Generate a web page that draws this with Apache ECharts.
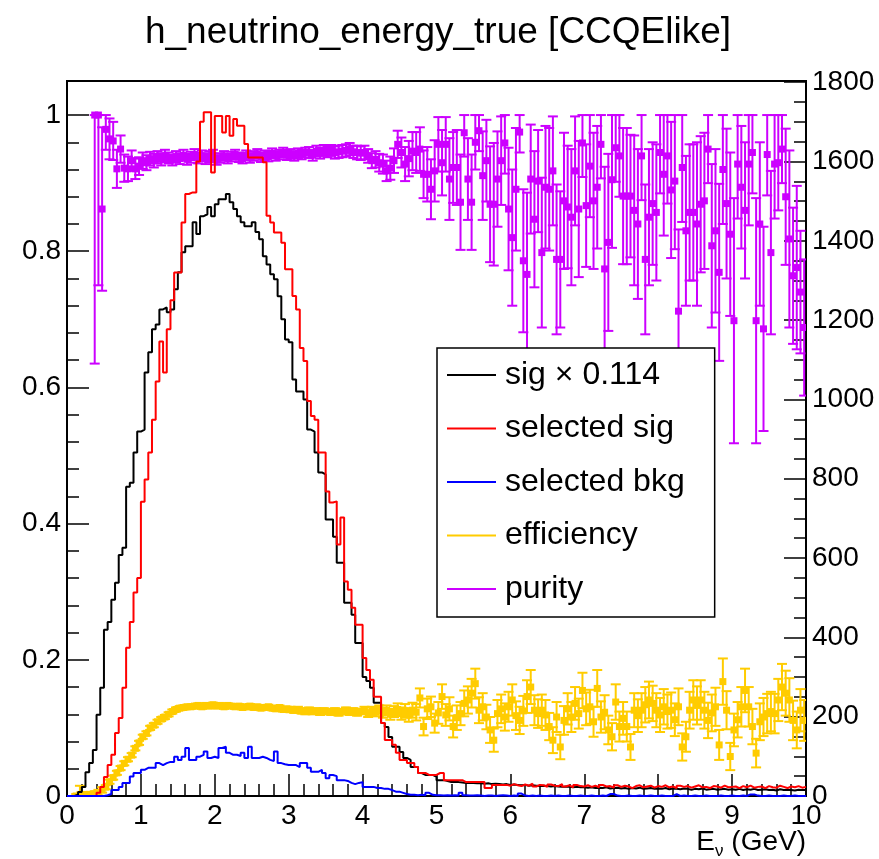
<!DOCTYPE html>
<html><head><meta charset="utf-8">
<script src="https://cdn.jsdelivr.net/npm/echarts@6/dist/echarts.min.js"></script>
<style>html,body{margin:0;padding:0;background:#fff}#c{width:879px;height:859px}</style>
</head><body><div id="c"></div>
<script>
const TITLE = 'h_neutrino_energy_true [CCQElike]';
const X_MIN = 0, X_MAX = 10, BIN_W = 0.05;
const LEFT_MAX = 1.05, RIGHT_MAX = 1803;
const leftTicks = [0, 0.2, 0.4, 0.6, 0.8, 1];
const rightTicks = [0, 200, 400, 600, 800, 1000, 1200, 1400, 1600, 1800];
const seriesNames = ['sig \u00d7 0.114', 'selected sig', 'selected bkg', 'efficiency', 'purity'];

// sig x 0.114 (right axis counts), 200 bins of 0.05 GeV
const sigScaled = [
0,0,3,10,23,60,83,116,205,273,419,439,495,538,608,626,780,790,866,919,
924,1068,1119,1177,1189,1227,1232,1220,1227,1278,1321,1371,1386,1386,1447,1417,1462,1467,1485,1462,
1492,1505,1505,1518,1497,1480,1462,1447,1437,1437,1447,1422,1404,1361,1340,1316,1303,1260,1202,1151,
1144,1050,1020,1020,1000,924,919,866,816,811,697,697,654,588,588,487,487,457,386,386,
300,290,273,235,235,184,174,149,124,124,111,96,91,73,73,58,53,53,53,48,
40,40,38,35,35,35,34,33,33,33,32,33,31,32,30,31,30,29,30,28,
29,28,27,28,26,27,26,25,26,25,24,25,24,23,24,23,22,23,22,22,
21,22,20,21,20,22,19,20,21,19,20,18,20,19,21,18,19,20,18,19,
18,20,17,19,18,17,19,18,16,18,17,19,16,17,18,16,17,18,16,17,
16,18,15,17,16,18,15,16,17,15,16,14,17,15,16,15,14,16,15,15];

const selSig = [
0,0,0,0,0,0,0,0,8,23,48,78,104,159,197,273,374,439,513,550,
742,798,866,949,1045,1146,1068,1177,1250,1320,1320,1446,1518,1522,1522,1600,1700,1724,1724,1572,
1715,1715,1673,1715,1665,1707,1690,1690,1644,1610,1610,1610,1610,1598,1463,1446,1421,1421,1395,1328,
1328,1261,1227,1130,1097,996,958,949,866,866,768,740,743,634,702,541,520,475,432,432,
348,318,293,250,250,184,141,141,129,109,91,91,83,83,73,58,58,53,53,53,
58,58,40,40,40,40,40,35,35,35,35,35,35,20,20,28,28,28,28,26,
30,27,25,29,26,31,24,28,27,23,29,26,25,30,24,27,22,28,25,24,
27,23,26,22,28,24,25,21,27,23,26,24,20,25,27,22,24,26,21,25,
23,27,22,24,20,26,23,25,21,24,27,22,23,20,25,24,21,26,22,23,
24,20,25,22,26,21,23,24,20,25,22,21,26,23,20,24,22,25,21,23];

const selBkg = [
0,0,0,0,0,0,0,0,0,0,2,5,15,15,23,33,33,49,58,58,
66,71,71,71,83,78,83,86,86,99,91,99,121,91,91,99,104,112,96,99,
96,121,124,109,104,104,101,109,96,124,96,96,99,96,91,88,112,83,80,78,
78,78,73,83,83,71,61,61,66,58,45,53,50,40,40,38,33,30,33,35,
23,23,23,20,20,18,18,15,11,11,8,5,3,3,2,3,2,8,3,2,
2,1,2,1,2,1,8,2,1,1,2,1,0,1,1,0,1,2,1,0,
1,0,6,1,0,1,0,1,0,0,1,0,1,0,0,1,0,0,1,0,
0,1,0,0,1,0,5,5,1,0,0,1,0,0,1,0,0,1,0,0,
1,0,0,0,5,0,1,0,0,1,0,0,1,0,0,0,1,0,0,1,
0,0,1,0,4,4,1,0,0,1,0,0,0,1,0,0,1,0,0,0];

const eff = [
null,null,0.0,0.002,0.001,0.001,0.002,0.003,0.005,0.009,0.013,0.021,0.027,0.034,0.041,0.048,0.054,0.06,0.07,0.078,
0.087,0.092,0.1,0.104,0.109,0.113,0.116,0.12,0.124,0.127,0.129,0.13,0.131,0.131,0.132,0.133,0.131,0.133,0.132,0.134,
0.132,0.133,0.131,0.133,0.132,0.131,0.132,0.130,0.131,0.132,0.130,0.131,0.129,0.130,0.131,0.129,0.128,0.130,0.127,0.128,
0.127,0.126,0.127,0.125,0.124,0.126,0.124,0.125,0.123,0.125,0.124,0.123,0.125,0.122,0.124,0.126,0.123,0.125,0.122,0.124,
0.126,0.121,0.125,0.123,0.127,0.122,0.126,0.120,0.124,0.127,0.121,0.125,0.119,0.126,0.123,0.144,0.102,0.128,0.131,0.107,
0.122,0.146,0.119,0.128,0.102,0.115,0.121,0.136,0.141,0.151,0.165,0.126,0.131,0.116,0.097,0.082,0.121,0.128,0.116,0.131,
0.141,0.118,0.111,0.125,0.146,0.160,0.126,0.121,0.126,0.119,0.102,0.082,0.116,0.072,0.111,0.128,0.116,0.136,0.121,0.155,
0.128,0.131,0.109,0.158,0.116,0.123,0.097,0.087,0.138,0.102,0.114,0.102,0.072,0.126,0.118,0.126,0.134,0.141,0.136,0.126,
0.119,0.131,0.124,0.126,0.112,0.131,0.072,0.087,0.126,0.141,0.133,0.141,0.126,0.111,0.122,0.131,0.075,0.168,0.126,0.058,
0.097,0.112,0.131,0.155,0.131,0.102,0.063,0.109,0.116,0.121,0.124,0.121,0.141,0.160,0.151,0.141,0.111,0.097,0.126,0.111];

const effErr = [
null,null,0.003,0.013,0.005,0.004,0.004,0.004,0.004,0.004,0.003,0.003,0.003,0.003,0.003,0.003,0.003,0.003,0.003,0.003,
0.003,0.003,0.003,0.003,0.003,0.003,0.003,0.003,0.003,0.003,0.003,0.003,0.003,0.003,0.003,0.003,0.003,0.003,0.003,0.003,
0.003,0.003,0.003,0.003,0.003,0.003,0.003,0.003,0.003,0.003,0.003,0.003,0.003,0.003,0.003,0.003,0.003,0.003,0.003,0.003,
0.004,0.004,0.004,0.004,0.004,0.004,0.004,0.004,0.004,0.004,0.004,0.004,0.004,0.004,0.004,0.004,0.004,0.004,0.004,0.004,
0.005,0.005,0.006,0.006,0.006,0.007,0.007,0.008,0.008,0.009,0.009,0.010,0.010,0.011,0.012,0.014,0.013,0.015,0.015,0.014,
0.016,0.018,0.016,0.017,0.016,0.018,0.017,0.019,0.020,0.021,0.022,0.019,0.020,0.018,0.019,0.017,0.020,0.021,0.020,0.022,
0.023,0.021,0.020,0.022,0.024,0.025,0.022,0.021,0.023,0.022,0.020,0.019,0.022,0.018,0.021,0.023,0.022,0.024,0.022,0.026,
0.024,0.025,0.022,0.027,0.023,0.025,0.021,0.020,0.026,0.022,0.024,0.022,0.019,0.025,0.024,0.025,0.026,0.027,0.026,0.025,
0.025,0.026,0.025,0.026,0.024,0.027,0.020,0.022,0.027,0.029,0.028,0.029,0.027,0.026,0.027,0.028,0.022,0.034,0.028,0.020,
0.024,0.026,0.029,0.032,0.029,0.026,0.021,0.027,0.028,0.029,0.029,0.029,0.031,0.034,0.033,0.032,0.029,0.027,0.031,0.030];

const pur = [
null,null,null,null,null,null,null,1.0,1.0,0.862,0.979,0.965,0.962,0.921,0.95,0.922,0.921,0.933,0.921,0.925,
0.933,0.930,0.936,0.933,0.938,0.935,0.940,0.937,0.934,0.939,0.936,0.941,0.935,0.938,0.942,0.937,0.940,0.936,0.939,0.941,
0.934,0.937,0.940,0.936,0.939,0.942,0.938,0.936,0.941,0.937,0.940,0.943,0.938,0.941,0.939,0.944,0.940,0.942,0.945,0.941,
0.943,0.940,0.944,0.942,0.945,0.945,0.941,0.947,0.944,0.948,0.946,0.948,0.945,0.946,0.947,0.948,0.950,0.946,0.945,0.944,
0.945,0.940,0.933,0.935,0.930,0.928,0.918,0.922,0.933,0.957,0.945,0.928,0.936,0.947,0.945,0.950,0.913,0.913,0.891,0.918,
0.957,0.930,0.957,0.906,0.923,0.923,0.872,0.974,0.906,0.872,0.960,0.977,0.911,0.933,0.869,0.869,0.906,0.933,0.959,0.862,
0.820,0.891,0.975,0.786,0.766,0.906,0.847,0.903,0.798,0.894,0.891,0.918,0.788,0.788,0.874,0.865,0.850,0.918,0.862,0.959,
0.867,0.925,0.874,0.894,0.957,0.774,0.813,0.905,0.952,0.940,0.881,0.881,0.881,0.860,0.840,0.940,0.788,0.850,0.870,0.857,
0.945,0.913,0.940,0.890,0.903,0.712,0.923,0.830,0.857,0.857,0.840,0.869,0.874,0.950,0.808,0.830,0.769,0.920,0.870,0.825,
0.698,0.928,0.894,0.860,0.928,0.945,0.698,0.840,0.686,0.942,0.798,0.928,0.930,0.950,0.880,0.818,0.764,0.776,0.740,0.688];

const purErr = [
null,null,null,null,null,null,null,0.365,0.25,0.12,0.03,0.03,0.028,0.028,0.02,0.02,0.018,0.015,0.015,0.013,
0.012,0.011,0.010,0.010,0.009,0.009,0.009,0.008,0.008,0.008,0.008,0.008,0.008,0.008,0.008,0.008,0.008,0.008,0.008,0.008,
0.007,0.007,0.007,0.007,0.007,0.007,0.007,0.007,0.007,0.007,0.007,0.007,0.007,0.007,0.007,0.007,0.007,0.007,0.007,0.007,
0.007,0.007,0.007,0.007,0.007,0.008,0.008,0.008,0.008,0.008,0.008,0.008,0.009,0.009,0.009,0.009,0.009,0.009,0.010,0.010,
0.010,0.010,0.011,0.012,0.013,0.014,0.015,0.017,0.018,0.020,0.022,0.025,0.026,0.028,0.030,0.032,0.035,0.040,0.044,0.045,
0.040,0.048,0.040,0.060,0.052,0.055,0.070,0.035,0.060,0.070,0.040,0.030,0.065,0.060,0.085,0.090,0.070,0.065,0.045,0.090,
0.10,0.09,0.03,0.105,0.12,0.08,0.10,0.075,0.11,0.09,0.09,0.08,0.11,0.10,0.10,0.09,0.10,0.08,0.10,0.05,
0.09,0.075,0.10,0.09,0.05,0.15,0.13,0.10,0.05,0.06,0.10,0.10,0.09,0.11,0.11,0.065,0.11,0.10,0.09,0.10,
0.06,0.09,0.07,0.10,0.10,0.12,0.08,0.11,0.10,0.10,0.12,0.10,0.10,0.05,0.12,0.12,0.13,0.08,0.11,0.12,
0.18,0.08,0.09,0.10,0.09,0.06,0.18,0.12,0.15,0.06,0.12,0.08,0.07,0.05,0.10,0.13,0.10,0.12,0.09,0.10];

const FONT = '"Liberation Sans", Arial, Helvetica, sans-serif';
const COL = { sig: '#000000', sel: '#ff0000', bkg: '#0000ff', eff: '#ffcc00', pur: '#cc00ff' };

function histData(vals) {
  const d = vals.map((v, i) => [X_MIN + i * BIN_W, v]);
  d.push([X_MAX, vals[vals.length - 1]]);
  return d;
}
function errData(vals, errs) {
  const d = [];
  vals.forEach((v, i) => {
    if (v == null) return;
    const e = errs[i];
    d.push([X_MIN + (i + 0.5) * BIN_W, v, Math.max(0, v - e), Math.min(1, v + e)]);
  });
  return d;
}
function minorOf(majorStep, split, maxV) {
  const out = [];
  const st = majorStep / split;
  for (let k = 1; k * st < maxV - 1e-9; k++) { if (k % split !== 0) out.push(+(k * st).toFixed(4)); }
  return out;
}
const leftMinor = minorOf(0.2, 5, 1.0);
const rightMinor = minorOf(200, 4, 1800);

function errRender(color) {
  return function (params, api) {
    const x = api.value(0), y = api.value(1), lo = api.value(2), hi = api.value(3);
    const p = api.coord([x, y]), pl = api.coord([x, lo]), ph = api.coord([x, hi]);
    const hw = api.size([BIN_W, 0])[0] / 2;
    const cap = 5, m = 3.5;
    const st = { stroke: color, lineWidth: 2 };
    const ch = [
      { type: 'line', shape: { x1: p[0], y1: pl[1], x2: p[0], y2: ph[1] }, style: st },
      { type: 'line', shape: { x1: p[0] - hw, y1: p[1], x2: p[0] + hw, y2: p[1] }, style: st },
      { type: 'line', shape: { x1: p[0] - cap, y1: pl[1], x2: p[0] + cap, y2: pl[1] }, style: st },
      { type: 'line', shape: { x1: p[0] - cap, y1: ph[1], x2: p[0] + cap, y2: ph[1] }, style: st },
      { type: 'rect', shape: { x: p[0] - m, y: p[1] - m, width: 2 * m, height: 2 * m }, style: { fill: color } }
    ];
    return { type: 'group', children: ch };
  };
}

const axisLbl = { fontSize: 28, color: '#000', fontFamily: FONT, formatter: v => String(v) };
const tickLine = { color: '#000', width: 1.5 };

const chart = echarts.init(document.getElementById('c'), null, { renderer: 'canvas' });
chart.setOption({
  animation: false,
  backgroundColor: '#fff',
  title: {
    text: TITLE, left: 433, top: 9, textAlign: 'center',
    textStyle: { fontSize: 37, fontWeight: 'normal', color: '#000', fontFamily: FONT }
  },
  grid: { left: 67, right: 73, top: 81, bottom: 63, show: true, borderColor: '#000', borderWidth: 2, backgroundColor: 'transparent' },
  legend: {
    orient: 'vertical', left: 437, top: 348,
    padding: [7, 30, 8, 10], itemGap: 13.5, itemWidth: 49, itemHeight: 2,
    backgroundColor: '#fff', borderColor: '#000', borderWidth: 1.5,
    selectedMode: false,
    textStyle: { fontSize: 32, color: '#000', fontFamily: FONT, lineHeight: 40, padding: [0, 0, 0, 4] },
    data: seriesNames.map(n => ({ name: n, icon: 'rect' }))
  },
  xAxis: {
    type: 'value', min: X_MIN, max: X_MAX, interval: 1,
    axisLine: { show: true, lineStyle: { color: '#000', width: 2 } },
    axisTick: { show: true, inside: true, length: 22, lineStyle: tickLine },
    minorTick: { show: true, splitNumber: 5, length: 12, lineStyle: tickLine },
    splitLine: { show: false },
    axisLabel: Object.assign({ margin: 6 }, axisLbl)
  },
  yAxis: [
    { type: 'value', min: 0, max: LEFT_MAX, position: 'left',
      axisLine: { show: true, lineStyle: { color: '#000', width: 2 } },
      axisTick: { show: true, inside: true, length: 22, lineStyle: tickLine, customValues: leftTicks },
      axisLabel: Object.assign({ margin: 6, customValues: leftTicks }, axisLbl),
      splitLine: { show: false } },
    { type: 'value', min: 0, max: RIGHT_MAX, position: 'right',
      axisLine: { show: true, lineStyle: { color: '#000', width: 2 } },
      axisTick: { show: true, inside: true, length: 22, lineStyle: tickLine, customValues: rightTicks },
      axisLabel: Object.assign({ margin: 6, customValues: rightTicks }, axisLbl),
      splitLine: { show: false } },
    { type: 'value', min: 0, max: LEFT_MAX, position: 'left',
      axisLine: { show: false },
      axisTick: { show: true, inside: true, length: 12, lineStyle: tickLine, customValues: leftMinor },
      axisLabel: { show: false }, splitLine: { show: false } },
    { type: 'value', min: 0, max: RIGHT_MAX, position: 'right',
      axisLine: { show: false },
      axisTick: { show: true, inside: true, length: 12, lineStyle: tickLine, customValues: rightMinor },
      axisLabel: { show: false }, splitLine: { show: false } }
  ],
  graphic: [{
    type: 'text', right: 73, top: 828,
    style: {
      text: '{a|E}{b|\u03bd}{a| (GeV)}',
      rich: {
        a: { fontSize: 28, fontFamily: FONT, fill: '#000', lineHeight: 36 },
        b: { fontSize: 17, fontFamily: FONT, fill: '#000', lineHeight: 36, verticalAlign: 'bottom' }
      }
    }
  }],
  series: [
    { name: seriesNames[3], type: 'custom', xAxisIndex: 0, yAxisIndex: 0, z: 2, clip: true,
      itemStyle: { color: COL.eff }, renderItem: errRender(COL.eff), data: errData(eff, effErr) },
    { name: seriesNames[4], type: 'custom', xAxisIndex: 0, yAxisIndex: 0, z: 2, clip: true,
      itemStyle: { color: COL.pur }, renderItem: errRender(COL.pur), data: errData(pur, purErr) },
    { name: seriesNames[0], type: 'line', yAxisIndex: 1, step: 'end', symbol: 'none', z: 3, clip: true,
      itemStyle: { color: COL.sig }, lineStyle: { color: COL.sig, width: 2 }, data: histData(sigScaled) },
    { name: seriesNames[1], type: 'line', yAxisIndex: 1, step: 'end', symbol: 'none', z: 3, clip: true,
      itemStyle: { color: COL.sel }, lineStyle: { color: COL.sel, width: 2 }, data: histData(selSig) },
    { name: seriesNames[2], type: 'line', yAxisIndex: 1, step: 'end', symbol: 'none', z: 3, clip: true,
      itemStyle: { color: COL.bkg }, lineStyle: { color: COL.bkg, width: 2 }, data: histData(selBkg) }
  ]
});
</script>
</body></html>
